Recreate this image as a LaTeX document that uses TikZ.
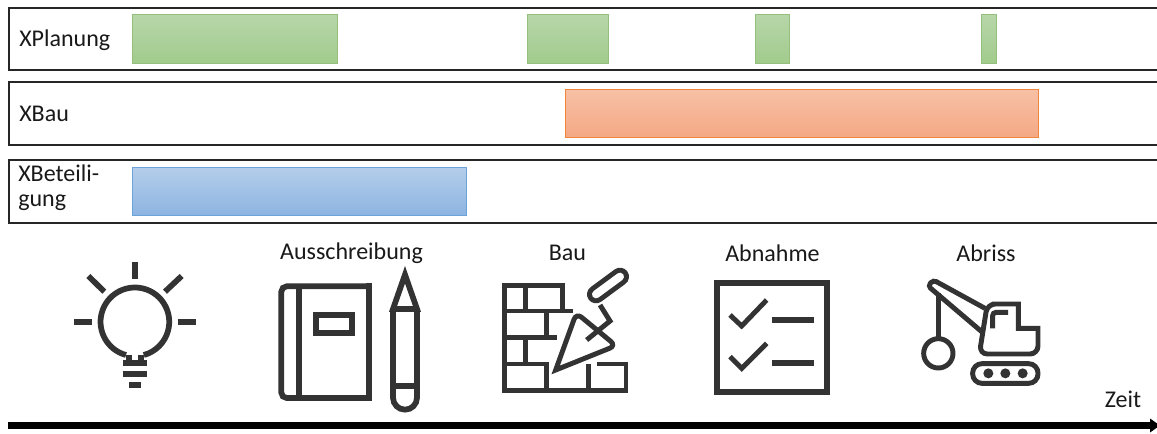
\documentclass[tikz,border=0pt]{standalone}
\usepackage{fontspec}
\setmainfont{Carlito}
\definecolor{gbd}{HTML}{94BF7C}
\definecolor{gbt}{HTML}{B7D6A9}
\definecolor{gbb}{HTML}{A1CB8C}
\definecolor{obd}{HTML}{F0853F}
\definecolor{obt}{HTML}{F7C0A5}
\definecolor{obb}{HTML}{F5A985}
\definecolor{bbd}{HTML}{6CA3D8}
\definecolor{bbt}{HTML}{B4CEEA}
\definecolor{bbb}{HTML}{8DB4E1}
\definecolor{ink}{HTML}{333333}
\begin{document}
\begin{tikzpicture}[x=0.75pt,y=-0.75pt,
  lane/.style={draw=black!85,line width=1pt},
  lbl/.style={font=\fontsize{18}{18.5}\selectfont,text=black!90,inner sep=0pt},
  lanelbl/.style={lbl,anchor=west,align=left},
  gbar/.style={draw=gbd,line width=.75pt,top color=gbt,bottom color=gbb},
  obar/.style={draw=obd,line width=.75pt,top color=obt,bottom color=obb},
  bbar/.style={draw=bbd,line width=.75pt,top color=bbt,bottom color=bbb},
  ic/.style={draw=ink,line width=4.3pt,line join=miter},
  ict/.style={draw=ink,line width=3.7pt,line join=miter},
  ]
\useasboundingbox (0,0) rectangle (1157,433);
\fill[white] (0,0) rectangle (1157,433);
% lanes
\draw[lane] (1158,8) -- (9,8) -- (9,70) -- (1158,70);
\draw[lane] (1158,82) -- (9,82) -- (9,145) -- (1158,145);
\draw[lane] (1158,160) -- (9,160) -- (9,223) -- (1158,223);
\node[lanelbl] (lp) at (19,40) {XPlanung};
\node[lanelbl] (lb) at (19,114) {XBau};
\node[lanelbl] (lt) at (18,188) {XBeteili-\\gung};
% bars
\path[gbar] (132.5,14.5) rectangle (337.5,63.5);
\path[gbar] (527.5,14.5) rectangle (608.5,63.5);
\path[gbar] (755.5,14.5) rectangle (789.5,63.5);
\path[gbar] (981.5,14.5) rectangle (996.5,63.5);
\path[obar] (565,89) rectangle (1038.5,137);
\path[bbar] (132.5,167) rectangle (466.5,215);
% labels
\node[lbl] (t1) at (351.5,253) {Ausschreibung};
\node[lbl] (t2) at (567.5,253) {Bau};
\node[lbl] (t3) at (772.5,253) {Abnahme};
\node[lbl] (t4) at (986,253) {Abriss};
\node[lbl] (t5) at (1123,399) {Zeit};
% time arrow
\coordinate (a0) at (8,425.5);
\coordinate (a1) at (1151,425.5);
\draw[black,line width=5pt] (a0) -- (a1);
\fill[black] (1150,418.5) -- (1160,425.5) -- (1150,432.5) -- cycle;
% bulb
\begin{scope}[shift={(60,240)},x=0.25pt,y=-0.25pt]
\draw[ic] (225,65) -- (225,118);
\draw[ic] (85,108) -- (133,155);
\draw[ic] (365,108) -- (315,155);
\draw[ic] (43,247) -- (97,247);
\draw[ic] (353,247) -- (407,247);
\draw[ic] (190,402) -- (261,402);
\draw[ic] (208,436) -- (243,436);
\draw[ic] (207,345) -- (207,368);
\draw[ic] (243,345) -- (243,368);
\draw[ic] (198,345) arc[start angle=105,end angle=435,radius=103];
\draw[ic] (190,368) -- (261,368);
\end{scope}
% book and pencil
\begin{scope}[shift={(60,240)},x=0.25pt,y=-0.25pt]
\draw[ic,rounded corners=4pt] (928,139) -- (664,139) -- (664,474) -- (928,474);
\draw[ic] (928,130) -- (928,483);
\draw[ic] (716,139) -- (716,474);
\draw[ic] (769,226) rectangle (876,280);
\draw[ic] (999,207) -- (1035,104) -- (1071,207) -- cycle;
\draw[ic] (999,207) -- (999,473) arc[start angle=180,end angle=0,radius=36] -- (1071,207);
\draw[ic] (999,438) -- (1071,438);
\end{scope}
% wall and trowel
\begin{scope}[shift={(490,240)},x=0.25pt,y=-0.25pt]
\draw[ict] (218,213) -- (218,137) -- (44,137) -- (44,452) -- (415,452);
\draw[ict] (37,213) -- (250,213);
\draw[ict] (107,137) -- (107,213);
\draw[ict] (170,213) -- (170,292);
\draw[ict] (37,292) -- (202,292);
\draw[ict] (107,292) -- (107,372);
\draw[ict] (37,372) -- (170,372) -- (170,460);
\draw[ict] (296,372) -- (296,460);
\draw[ict] (320,372) -- (408,372) -- (408,452);
\draw[ict] (197,390) [rounded corners=5pt] -- (259,219) -- (378,317) [sharp corners] -- cycle;
\draw[ict] (290,300) -- (360,243) -- (330,195);
\draw[ink,line width=13.5pt,line cap=round] (318,163) -- (390,110);
\draw[white,line width=6pt,line cap=round] (318,163) -- (390,110);
\end{scope}
% checklist
\begin{scope}[shift={(490,240)},x=0.25pt,y=-0.25pt]
\draw[ic] (682,128) rectangle (1010,456);
\draw[ict] (720,225) -- (755,258) -- (830,180);
\draw[ict] (720,350) -- (755,385) -- (830,310);
\draw[ic] (845,240) -- (973,240);
\draw[ic] (845,370) -- (973,370);
\end{scope}
% excavator
\begin{scope}[shift={(900,240)},x=0.25pt,y=-0.25pt]
\draw[ict] (115,340) circle[radius=44];
\draw[ict] (115,296) -- (115,160);
\draw[ict,rounded corners=2.5pt] (255,205) -- (100,120) -- (84,138) -- (245,275);
\draw[ict] (300,192) -- (355,192) -- (355,265) -- (414,265) [rounded corners=6pt] -- (414,342) -- (238,342) -- (262,192) -- cycle;
\draw[ict,rounded corners=2.5pt] (278,265) -- (278,217) -- (324,217);
\draw[ict,rounded corners=7pt] (218,371) rectangle (414,430);
\fill[ink] (265,400) circle[radius=15] (316,400) circle[radius=15] (368,400) circle[radius=15];
\end{scope}
\end{tikzpicture}
\end{document}
